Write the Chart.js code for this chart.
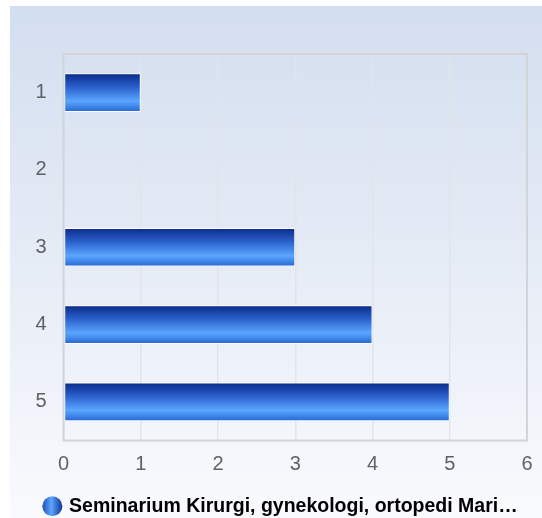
<!DOCTYPE html>
<html>
<head>
<meta charset="utf-8">
<script src="https://cdn.jsdelivr.net/npm/chart.js@4.4.1/dist/chart.umd.min.js"></script>
<style>
  html, body { margin: 0; padding: 0; background: #fff; }
  #wrap { width: 542px; height: 518px; }
</style>
</head>
<body>
<div id="wrap"><canvas id="myChart" width="542" height="518"></canvas></div>
<script>
// data
var categorias = ['1', '2', '3', '4', '5'];
var valores = [1, 0, 3, 4, 5];
var serieNome = 'Seminarium Kirurgi, gynekologi, ortopedi Mari…';
var xMin = 0;
var xMax = 6;

var fonte = "'Liberation Sans', Arial, sans-serif";

// background panel, plot frame and legend marker
var fundoPlugin = {
    id: 'fundo',
    afterLayout: function (chart) {
        // push the legend a bit to the right, like the original
        var leg = chart.legend;
        if (leg) {
            leg.left += 11.5;
            leg.right += 11.5;
        }
    },
    beforeDraw: function (chart) {
        var ctx = chart.ctx;
        var g = ctx.createLinearGradient(0, 6, 0, 518);
        g.addColorStop(0, '#d3deef');
        g.addColorStop(1, '#f9fafd');
        ctx.save();
        ctx.fillStyle = g;
        ctx.fillRect(10, 6, 532, 512);
        ctx.restore();
    },
    afterDraw: function (chart) {
        var ctx = chart.ctx;
        var a = chart.chartArea;
        ctx.save();
        ctx.strokeStyle = '#d2d4d8';
        ctx.lineWidth = 2;
        ctx.strokeRect(a.left, a.top, a.right - a.left, a.bottom - a.top);
        var leg = chart.legend;
        if (leg && leg.legendHitBoxes && leg.legendHitBoxes.length) {
            var hb = leg.legendHitBoxes[0];
            var r = 10;
            var cx = hb.left + r;
            var cy = hb.top + hb.height / 2;
            var lg = ctx.createLinearGradient(cx - r, 0, cx + r, 0);
            lg.addColorStop(0, '#1c4fb8');
            lg.addColorStop(0.45, '#5ea6ff');
            lg.addColorStop(1, '#0d3590');
            ctx.fillStyle = lg;
            ctx.beginPath();
            ctx.arc(cx, cy, r, 0, Math.PI * 2);
            ctx.fill();
        }
        ctx.restore();
    }
};

function gradienteBarra(context) {
    var chart = context.chart;
    if (!chart.chartArea || !chart.scales.y) return '#2a62cc';
    var y = chart.scales.y.getPixelForValue(context.dataIndex);
    var h = (chart.scales.y.getPixelForValue(1) - chart.scales.y.getPixelForValue(0)) * 0.5;
    var g = chart.ctx.createLinearGradient(0, y - h / 2, 0, y + h / 2);
    g.addColorStop(0, '#0a2a88');
    g.addColorStop(0.35, '#2a5fca');
    g.addColorStop(0.72, '#5aa6ff');
    g.addColorStop(1, '#2566d2');
    return g;
}

var ctx = document.getElementById('myChart').getContext('2d');
var myChart = new Chart(ctx, {
    type: 'bar',
    data: {
        labels: categorias,
        datasets: [{
            label: serieNome,
            data: valores,
            backgroundColor: gradienteBarra,
            borderColor: 'rgba(255,255,255,0.95)',
            borderWidth: function (c) { return c.raw === 0 ? 0 : 1; },
            borderSkipped: false,
            barPercentage: 0.5,
            categoryPercentage: 1
        }]
    },
    options: {
        indexAxis: 'y',
        responsive: false,
        animation: false,
        layout: { padding: { top: 54, left: 10, right: 15, bottom: -8 } },
        scales: {
            x: {
                min: xMin,
                max: xMax,
                grid: { color: '#e2e4e8', lineWidth: 1.5, drawTicks: false },
                border: { display: false },
                ticks: { stepSize: 1, padding: 12, color: '#5f6166', font: { family: fonte, size: 20 } },
                afterFit: function (s) { s.height = 53; s.paddingLeft = 0; s.paddingRight = 0; }
            },
            y: {
                grid: { display: false, drawTicks: false },
                border: { display: false },
                ticks: { padding: 17, color: '#5f6166', font: { family: fonte, size: 20 } },
                afterFit: function (s) { s.width = 53.5; }
            }
        },
        plugins: {
            legend: {
                position: 'bottom',
                labels: {
                    usePointStyle: true,
                    pointStyle: 'circle',
                    pointStyleWidth: 17,
                    boxHeight: 20,
                    padding: 3,
                    color: '#333333',
                    font: { family: fonte, size: 19.5, weight: 'bold' },
                    generateLabels: function (chart) {
                        return [{
                            text: serieNome,
                            fillStyle: 'rgba(0,0,0,0)',
                            strokeStyle: 'rgba(0,0,0,0)',
                            lineWidth: 0,
                            pointStyle: 'circle',
                            datasetIndex: 0,
                            hidden: false
                        }];
                    }
                }
            },
            tooltip: { enabled: false }
        }
    },
    plugins: [fundoPlugin]
});
</script>
</body>
</html>
